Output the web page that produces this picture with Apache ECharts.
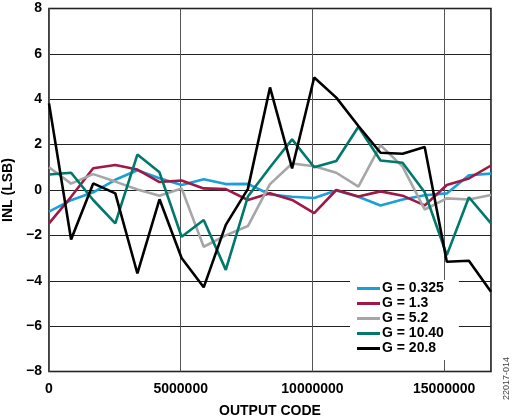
<!DOCTYPE html>
<html>
<head>
    <meta charset="utf-8">
    <title>INL vs Output Code</title>
    <script src="https://cdn.jsdelivr.net/npm/echarts@6/dist/echarts.min.js"></script>
    <style>
        html, body { margin: 0; padding: 0; background: #fff; }
        #main { width: 514px; height: 419px; }
    </style>
</head>
<body>
<div id="main"></div>
<script>
    // 21 output codes, 0 .. full scale of a 24-bit converter
    const fullScale = 16777215;
    const codes = [0, 838861, 1677722, 2516582, 3355443, 4194304, 5033165, 5872025, 6710886, 7549747,
        8388608, 9227468, 10066329, 10905190, 11744051, 12582911, 13421772, 14260633, 15099494, 15938354, 16777215];

    const inlG0325 = [-0.95, -0.45, -0.1, 0.45, 0.87, 0.52, 0.22, 0.47, 0.26, 0.27,
        -0.2, -0.3, -0.35, -0.02, -0.3, -0.68, -0.42, -0.23, -0.15, 0.65, 0.72];
    const inlG13 = [-1.47, -0.3, 0.96, 1.1, 0.9, 0.35, 0.42, 0.07, 0.04, -0.44,
        -0.14, -0.44, -1.02, 0.0, -0.29, -0.06, -0.25, -0.68, 0.22, 0.51, 1.08];
    const inlG52 = [1.0, 0.28, 0.7, 0.37, 0.02, -0.25, 0.07, -2.5, -2.0, -1.59,
        0.26, 1.17, 1.05, 0.76, 0.15, 1.98, 1.03, -0.86, -0.37, -0.42, -0.22];
    const inlG104 = [0.68, 0.76, -0.44, -1.47, 1.56, 0.78, -2.06, -1.32, -3.52, -0.29,
        1.0, 2.23, 1.0, 1.28, 2.79, 1.3, 1.2, -0.1, -2.87, -0.32, -1.47];
    const inlG208 = [3.82, -2.18, 0.29, -0.15, -3.68, -0.41, -3.0, -4.29, -1.54, 0.05,
        4.52, 0.95, 4.96, 4.07, 2.82, 1.64, 1.6, 1.89, -3.16, -3.12, -4.48];

    const seriesNames = ['G = 0.325', 'G = 1.3', 'G = 5.2', 'G = 10.40', 'G = 20.8'];
    const seriesColors = ['#1a9fd9', '#a01846', '#a6a6a6', '#00786b', '#000000'];
    const seriesData = [inlG0325, inlG13, inlG52, inlG104, inlG208];

    const yTicks = { min: -8, max: 8, step: 2 };
    const xTickStep = 5000000;

    const font = '"Liberation Sans", Arial, Helvetica, sans-serif';

    var myChart = echarts.init(document.getElementById('main'));

    var option = {
        animation: false,
        grid: {
            left: 49,
            right: 23,
            top: 8.5,
            bottom: 47.5,
            outerBoundsMode: 'none',
            containLabel: false,
            show: true,
            borderColor: '#000',
            borderWidth: 1.5,
            backgroundColor: 'transparent'
        },
        legend: {
            orient: 'vertical',
            left: 350,
            top: 280,
            backgroundColor: '#fff',
            padding: [1, 15, 4, 7],
            icon: 'rect',
            itemWidth: 23,
            itemHeight: 3,
            itemGap: 0,
            textStyle: {
                fontFamily: font,
                fontWeight: 'bold',
                fontSize: 14,
                lineHeight: 15,
                color: '#000',
                padding: [0, 0, 0, -3]
            },
            data: seriesNames
        },
        xAxis: {
            type: 'value',
            min: 0,
            max: fullScale,
            interval: xTickStep,
            name: 'OUTPUT CODE',
            nameLocation: 'middle',
            nameGap: 33,
            nameTextStyle: { fontFamily: font, fontWeight: 'bold', fontSize: 14, color: '#000' },
            axisLine: { show: false },
            axisTick: { show: false },
            axisLabel: {
                fontFamily: font,
                fontWeight: 'bold',
                fontSize: 14,
                color: '#000',
                margin: 11,
                showMaxLabel: false,
                formatter: function (v) { return v % xTickStep === 0 ? String(v) : ''; }
            },
            splitLine: { show: true, lineStyle: { color: '#555', width: 1 } }
        },
        yAxis: {
            type: 'value',
            min: yTicks.min,
            max: yTicks.max,
            interval: yTicks.step,
            name: 'INL (LSB)',
            nameLocation: 'middle',
            nameGap: 23,
            nameTextStyle: { fontFamily: font, fontWeight: 'bold', fontSize: 14, color: '#000' },
            axisLine: { show: false },
            axisTick: { show: false },
            axisLabel: {
                fontFamily: font,
                fontWeight: 'bold',
                fontSize: 14,
                color: '#000',
                margin: 7,
                formatter: function (v) { return String(v).replace('-', '\u2212'); }
            },
            splitLine: { show: true, lineStyle: { color: '#222', width: 1 } }
        },
        graphic: [{
            type: 'text',
            left: 502,
            top: 357,
            rotation: Math.PI / 2,
            style: {
                text: '22017-014',
                fontFamily: font,
                fontSize: 9,
                fill: '#444'
            }
        }],
        series: seriesNames.map(function (name, i) {
            return {
                name: name,
                type: 'line',
                symbol: 'none',
                color: seriesColors[i],
                lineStyle: { width: 2.6, color: seriesColors[i] },
                data: codes.map(function (c, j) { return [c, seriesData[i][j]]; })
            };
        })
    };

    myChart.setOption(option);
</script>
</body>
</html>
